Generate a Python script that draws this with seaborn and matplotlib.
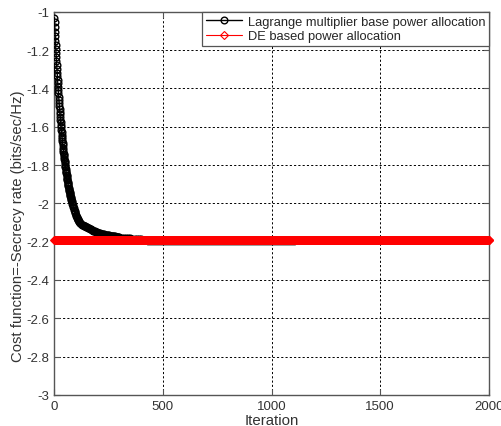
import matplotlib
matplotlib.use("Agg")
import matplotlib.pyplot as plt
import seaborn as sns
import numpy as np
import pandas as pd
from matplotlib.ticker import FixedLocator, FixedFormatter

# ---------------- data ----------------
lag_iter = (list(range(1, 31))
            + list(range(31, 81))
            + list(range(82, 121, 2))
            + list(range(124, 301, 4))
            + list(range(310, 421, 10))
            + [430, 1110])
lag_vals = [
    # 1..30
    -1.030, -1.055, -1.080, -1.104, -1.128, -1.151, -1.173, -1.196, -1.217, -1.238,
    -1.259, -1.279, -1.299, -1.319, -1.337, -1.356, -1.374, -1.392, -1.409, -1.426,
    -1.443, -1.459, -1.475, -1.491, -1.506, -1.521, -1.535, -1.550, -1.564, -1.577,
    # 31..80
    -1.590, -1.603, -1.616, -1.629, -1.641, -1.653, -1.665, -1.676, -1.687, -1.698,
    -1.709, -1.719, -1.730, -1.740, -1.749, -1.759, -1.768, -1.778, -1.786, -1.795,
    -1.804, -1.812, -1.820, -1.829, -1.836, -1.844, -1.852, -1.859, -1.866, -1.873,
    -1.880, -1.887, -1.893, -1.900, -1.906, -1.912, -1.918, -1.924, -1.930, -1.936,
    -1.941, -1.947, -1.952, -1.957, -1.962, -1.967, -1.972, -1.977, -1.981, -1.986,
    # 82..120 step 2
    -1.995, -2.003, -2.011, -2.019, -2.026, -2.033, -2.040, -2.047, -2.053, -2.059,
    -2.064, -2.070, -2.075, -2.080, -2.085, -2.089, -2.093, -2.098, -2.102, -2.105,
    # 124..300 step 4
    -2.108, -2.111, -2.114, -2.117, -2.119, -2.121, -2.124, -2.126, -2.129, -2.131,
    -2.134, -2.136, -2.138, -2.141, -2.143, -2.145, -2.147, -2.149, -2.151, -2.153,
    -2.154, -2.156, -2.157, -2.158, -2.160, -2.161, -2.162, -2.163, -2.164, -2.165,
    -2.166, -2.167, -2.168, -2.169, -2.170, -2.171, -2.171, -2.172, -2.173, -2.173,
    -2.174, -2.175, -2.175, -2.176, -2.177,
    # 310..420 step 10
    -2.179, -2.180, -2.181, -2.182, -2.183, -2.184, -2.185, -2.186, -2.187, -2.188,
    -2.189, -2.190,
    # plateau
    -2.216, -2.216,
]
de_iter = list(range(1, 2001))
de_level = -2.192
de_vals = [de_level] * len(de_iter)

x_ticks = [0, 500, 1000, 1500, 2000]
y_ticks = [-3, -2.8, -2.6, -2.4, -2.2, -2, -1.8, -1.6, -1.4, -1.2, -1]
y_tick_labels = ["-3", "-2.8", "-2.6", "-2.4", "-2.2", "-2", "-1.8", "-1.6", "-1.4", "-1.2", "-1"]

lag_label = "Lagrange multiplier base power allocation"
de_label = "DE based power allocation"
x_label = "Iteration"
y_label = "Cost function=-Secrecy rate (bits/sec/Hz)"

# ---------------- plotting ----------------
sns.set_style("white")
plt.rcParams['font.family'] = ['Liberation Sans', 'DejaVu Sans']

fig = plt.figure(figsize=(5.01, 4.27), dpi=100)
ax = fig.add_axes([0.108, 0.073, 0.868, 0.897])

lag_df = pd.DataFrame({"it": lag_iter, "v": lag_vals})
de_df = pd.DataFrame({"it": de_iter, "v": de_vals})

n_marked = len(lag_iter) - 2
sns.lineplot(data=lag_df, x="it", y="v", ax=ax, color="black", lw=1.0,
             marker="o", ms=4.8, mfc="none", mec="black", mew=1.0,
             markevery=list(range(n_marked)), sort=False, estimator=None,
             label=lag_label, zorder=3)
sns.lineplot(data=de_df, x="it", y="v", ax=ax, color="red", lw=0.8,
             marker="D", ms=4.4, mfc="none", mec="red", mew=0.8,
             sort=False, estimator=None, label=de_label, zorder=4, clip_on=False)

ax.set_xlim(0, 2000)
ax.set_ylim(-3, -1)
ax.xaxis.set_major_locator(FixedLocator(x_ticks))
ax.yaxis.set_major_locator(FixedLocator(y_ticks))
ax.yaxis.set_major_formatter(FixedFormatter(y_tick_labels))

ax.grid(True, color="black", linestyle=(0, (2.2, 2.2)), linewidth=0.7)
ax.set_axisbelow(True)
for s in ax.spines.values():
    s.set_color("#555555")
    s.set_linewidth(1.0)
    s.set_visible(True)

ax.tick_params(direction="in", length=4, width=0.8, colors="#555555",
               labelcolor="#333333", labelsize=9.5, top=True, right=True,
               bottom=True, left=True)
ax.set_xlabel(x_label, fontsize=10.8, color="#333333", labelpad=1)
ax.set_ylabel(y_label, fontsize=10.7, color="#333333")
ax.yaxis.set_label_coords(-0.068, 0.444)

leg = ax.legend(loc="upper right", borderaxespad=0, fancybox=False,
                framealpha=1, edgecolor="#555555", fontsize=9.3,
                handlelength=2.8, handletextpad=0.4, borderpad=0.3,
                labelspacing=0.2)
leg.get_frame().set_linewidth(0.9)

fig.savefig("out.png", dpi=100)
